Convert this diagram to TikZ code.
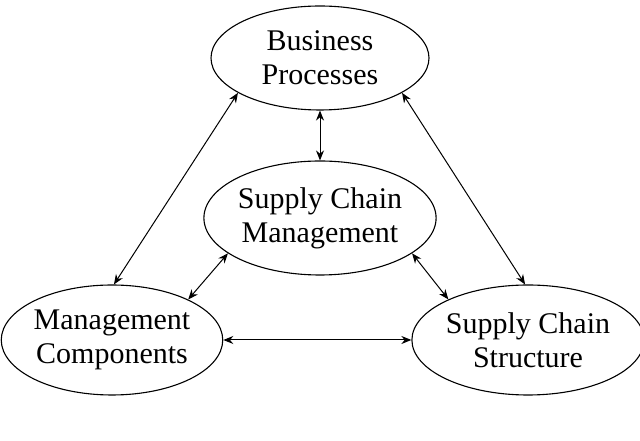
\documentclass[tikz,border=0pt]{standalone}
\usepackage{fontspec}
\setmainfont{Liberation Serif}
\usetikzlibrary{shapes.geometric, arrows.meta}
\tikzset{block/.style={draw, ellipse, line width=1.1pt, align=center, minimum width=218pt, minimum height=104pt, inner sep=0pt}}
\tikzset{link/.style={{Stealth[length=10pt,width=8pt]}-{Stealth[length=10pt,width=8pt]}, line width=1pt}}

\begin{document}
\begin{tikzpicture}[x=1pt, y=1pt, font=\fontsize{30}{34}\selectfont]
\useasboundingbox (0,0) rectangle (640,441);
\node[block] (bp) at (320,383) {Business\\Processes};
\node[block, minimum width=222pt, minimum height=114pt] (scm) at (320,223) {Supply Chain\\Management};
\node[block, minimum height=110pt] (mc) at (112,101) {Management\\Components};
\node[block, minimum height=110pt] (scs) at (528,101) {Supply Chain\\Structure};

\draw[link] (bp.203) -- (mc.88);
\draw[link] (bp.337) -- (scs.93);
\draw[link] (bp) -- (scm);
\draw[link] (scm.201) -- (mc.28);
\draw[link] (scm.339) -- (scs.153);
\draw[link] (mc) -- (scs);
\end{tikzpicture}
\end{document}
